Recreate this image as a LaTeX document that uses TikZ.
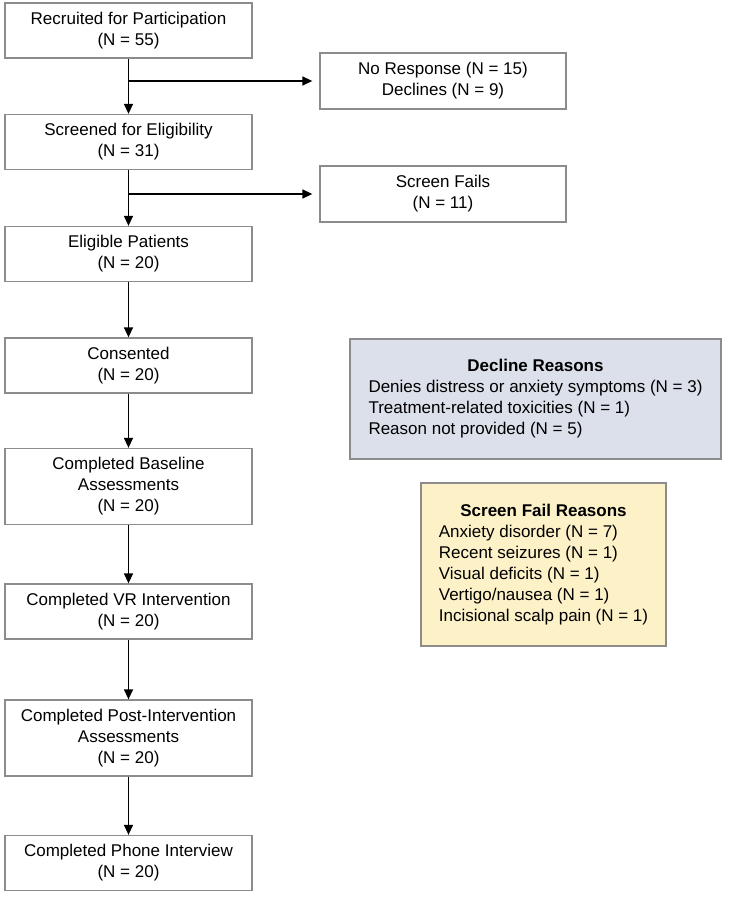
\documentclass[tikz,border=0pt]{standalone}
\usepackage{fontspec}
\setmainfont{Liberation Sans}
\usetikzlibrary{arrows.meta,positioning}
\definecolor{boxline}{HTML}{8C8C8C}
\definecolor{declinefill}{HTML}{DCE0EA}
\definecolor{failfill}{HTML}{FDF1C8}
\tikzset{
  box/.style={draw=boxline, line width=1.3pt, inner sep=0pt, align=center,
    minimum width=247pt, minimum height=55pt, font=\fontsize{17}{21}\selectfont},
  tallbox/.style={box, minimum height=76pt},
  reason/.style={draw=boxline, line width=1.3pt, inner sep=0pt,
    font=\fontsize{17}{21}\selectfont},
  arr/.style={line width=1.5pt, -{Triangle[width=9pt,length=10pt]}}
}

\begin{document}
\begin{tikzpicture}[x=1pt,y=1pt]
\useasboundingbox (0,0) rectangle (734,-900);
% main column
\node[box] (recr) at (128.5,-30.5) {Recruited for Participation\\(N = 55)};
\node[box] (scrn) at (128.5,-142) {Screened for Eligibility\\(N = 31)};
\node[box] (elig) at (128.5,-254) {Eligible Patients\\(N = 20)};
\node[box] (cons) at (128.5,-365.5) {Consented\\(N = 20)};
\node[tallbox] (base) at (128.5,-486.5) {Completed Baseline\\Assessments\\(N = 20)};
\node[box] (vrint) at (128.5,-611.5) {Completed VR Intervention\\(N = 20)};
\node[tallbox] (post) at (128.5,-738) {Completed Post-Intervention\\Assessments\\(N = 20)};
\node[box] (phone) at (128.5,-863) {Completed Phone Interview\\(N = 20)};
% exclusions
\node[box, minimum width=246pt, minimum height=56pt] (nores) at (443,-81) {No Response (N = 15)\\Declines (N = 9)};
\node[box, minimum width=246pt, minimum height=56pt] (fails) at (443,-194) {Screen Fails\\(N = 11)};
% reasons
\node[reason, fill=declinefill, minimum width=371pt, minimum height=120pt] (declr) at (535.5,-399)
  {\begin{tabular}{@{}l@{}}\multicolumn{1}{@{}c@{}}{\textbf{Decline Reasons}}\\
   Denies distress or anxiety symptoms (N = 3)\\
   Treatment-related toxicities (N = 1)\\
   Reason not provided (N = 5)\end{tabular}};
\node[reason, fill=failfill, minimum width=245pt, minimum height=163pt] (failr) at (543.5,-564.5)
  {\begin{tabular}{@{}l@{}}\multicolumn{1}{@{}c@{}}{\textbf{Screen Fail Reasons}}\\
   Anxiety disorder (N = 7)\\
   Recent seizures (N = 1)\\
   Visual deficits (N = 1)\\
   Vertigo/nausea (N = 1)\\
   Incisional scalp pain (N = 1)\end{tabular}};
% arrows
\draw[arr] (recr) -- (scrn);
\draw[arr] (scrn) -- (elig);
\draw[arr] (elig) -- (cons);
\draw[arr] (cons) -- (base);
\draw[arr] (base) -- (vrint);
\draw[arr] (vrint) -- (post);
\draw[arr] (post) -- (phone);
\draw[arr, shorten >=7pt] (recr.south |- nores.west) -- (nores.west);
\draw[arr, shorten >=7pt] (scrn.south |- fails.west) -- (fails.west);
\end{tikzpicture}
\end{document}
